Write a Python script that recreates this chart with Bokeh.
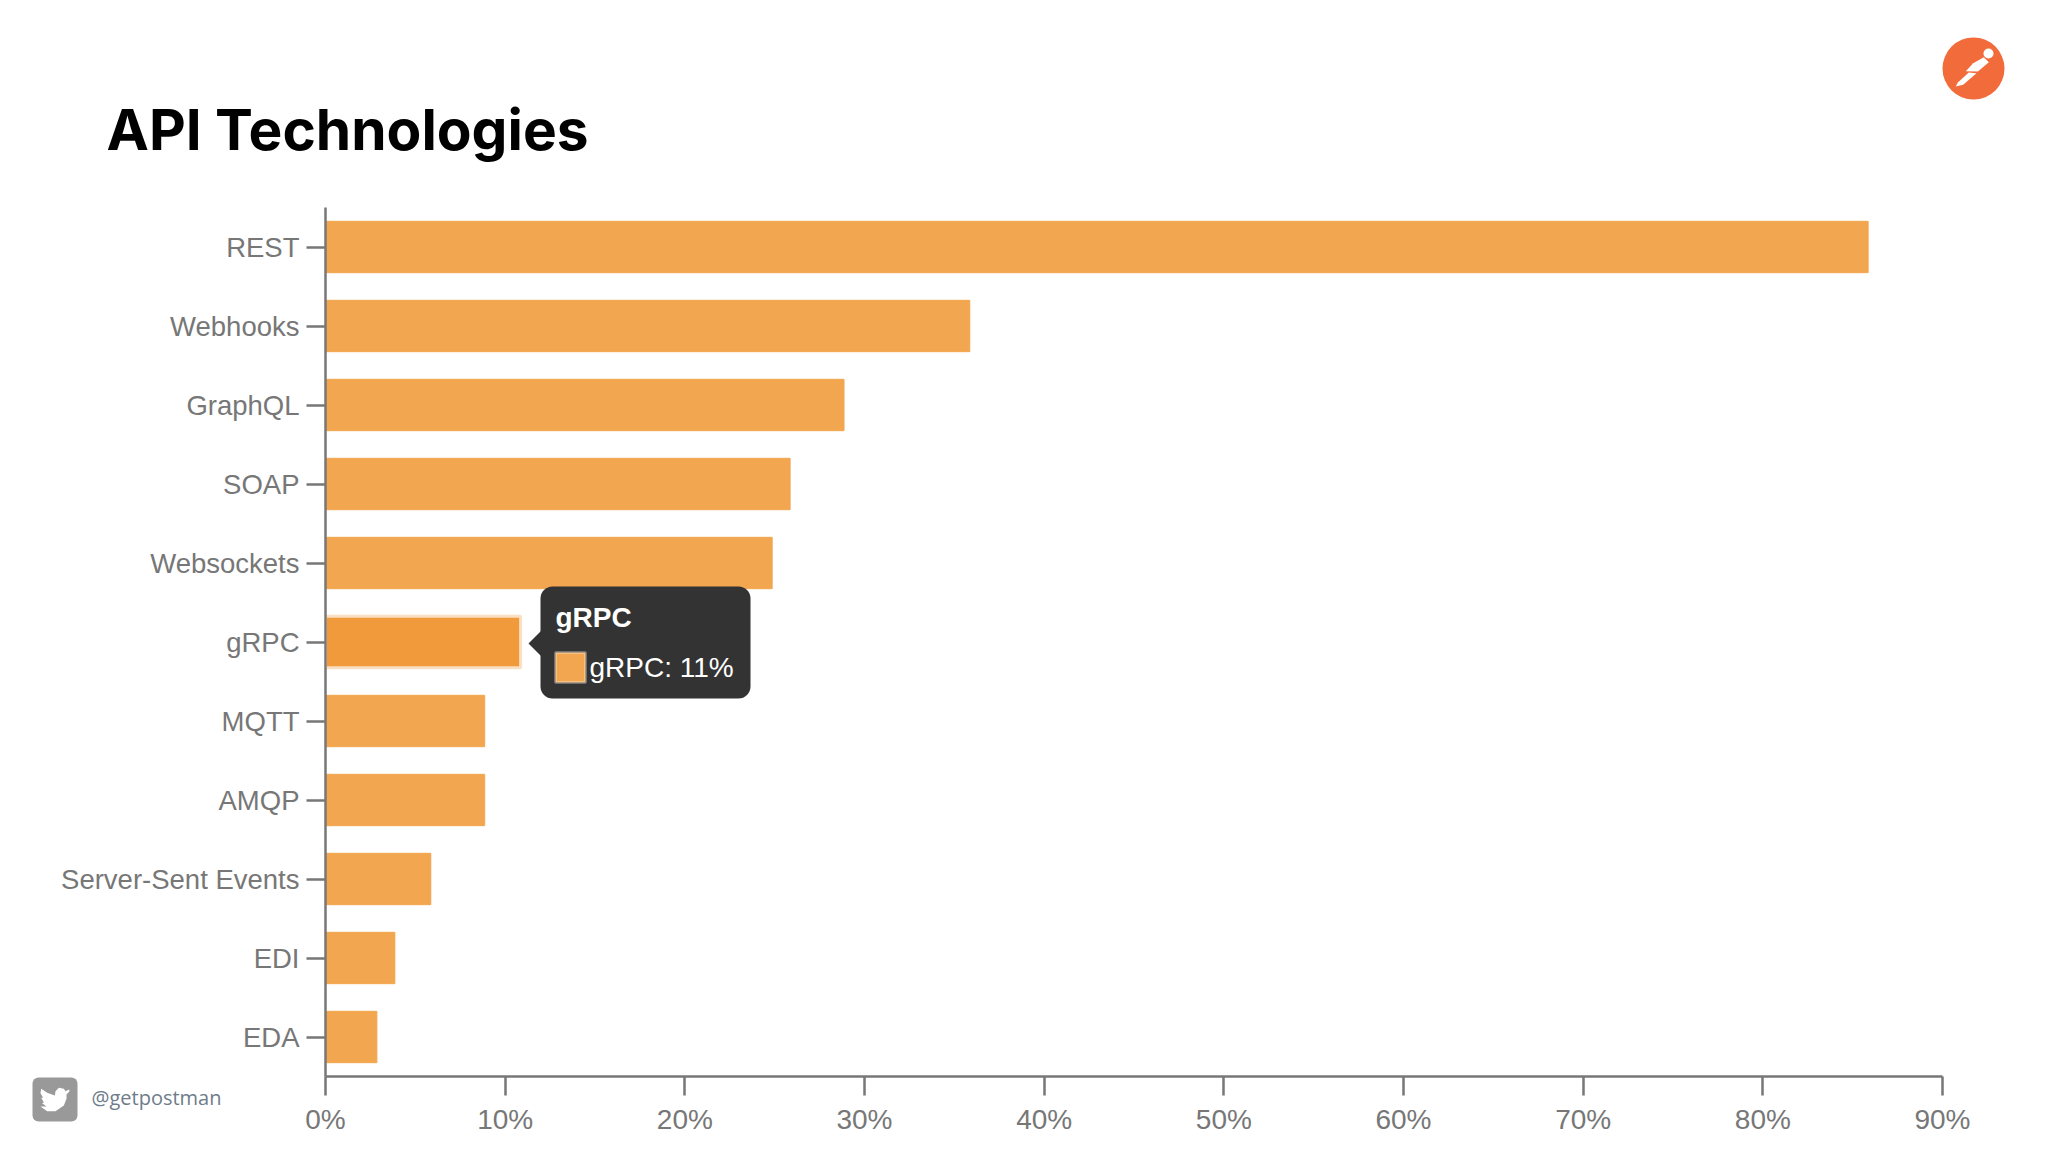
from bokeh.plotting import figure
from bokeh.layouts import column
from bokeh.models import (BoxAnnotation, PolyAnnotation, Label, FixedTicker, PrintfTickFormatter,
                          ColumnDataSource, Range1d, FactorRange, Title)
from bokeh.transform import dodge
from bokeh.embed import file_html
from bokeh.resources import INLINE

categories = ["REST", "Webhooks", "GraphQL", "SOAP", "Websockets", "gRPC", "MQTT", "AMQP",
              "Server-Sent Events", "EDI", "EDA"]
usage_pct = [86, 36, 29, 26, 25, 11, 9, 9, 6, 4, 3]
x_ticks = [0, 10, 20, 30, 40, 50, 60, 70, 80, 90]
BAR = "#F2A64F"
HILITE = "#F09A3B"
bar_colors = [HILITE if c == "gRPC" else BAR for c in categories]
bar_lines = ["#FAE0C2" if c == "gRPC" else BAR for c in categories]
bar_widths = [3 if c == "gRPC" else 1 for c in categories]

FRAME_L, FRAME_T, FRAME_R, FRAME_B = 325, 207, 1942, 1076
W, H = 2040, 1144
p = figure(width=W, height=H, output_backend="svg", toolbar_location=None,
           x_range=Range1d(0, 90), y_range=FactorRange(factors=categories[::-1]),
           min_border_left=FRAME_L, min_border_right=W - FRAME_R, min_border_top=FRAME_T,
           min_border_bottom=H - FRAME_B, frame_align=False,
           background_fill_color="white", border_fill_color="white", outline_line_color=None)

p.title = Title(text="API Technologies", text_font="Inter", text_font_style="bold",
                text_font_size="56.8px", text_color="#000000", offset=-219, standoff=88)

src = ColumnDataSource(dict(cat=categories, val=usage_pct, col=bar_colors, lin=bar_lines, lw=bar_widths))
p.hbar(y="cat", left=0, right=dodge("val", -0.14), height=0.65, source=src,
       fill_color="col", line_color="lin", line_width="lw")

p.grid.visible = False
for ax in (p.xaxis[0], p.yaxis[0]):
    ax.axis_line_color = "#777777"
    ax.axis_line_width = 2.5
    ax.major_tick_line_color = "#777777"
    ax.major_tick_line_width = 2.5
    ax.major_tick_out = 19
    ax.major_tick_in = 0
    ax.minor_tick_line_color = None
    ax.major_label_text_font = "Liberation Sans"
    ax.major_label_text_color = "#777777"
p.xaxis[0].major_label_text_font_size = "28px"
p.yaxis[0].major_label_text_font_size = "27.5px"
p.xaxis[0].ticker = FixedTicker(ticks=x_ticks)
p.xaxis[0].formatter = PrintfTickFormatter(format="%d%%")
p.xaxis[0].major_label_standoff = 8
p.yaxis[0].major_label_standoff = 7

# transparent page-sized overlay: tooltip, logo and handle live here
o = figure(width=W, height=H, output_backend="svg", toolbar_location=None,
           x_range=Range1d(0, W), y_range=Range1d(H, 0),
           min_border=0, background_fill_color=None, border_fill_color=None, outline_line_color=None,
           x_axis_location=None, y_axis_location=None, frame_align=False,
           styles={"position": "absolute", "left": "0px", "top": "0px"})
o.grid.visible = False

def box(l, r, t, b, color, radius=0, line=None, lw=0):
    o.add_layout(BoxAnnotation(left=l, right=r, top=t, bottom=b,
                               fill_color=color, fill_alpha=1, line_color=line, line_width=lw, border_radius=radius))

def poly(pts, color):
    o.add_layout(PolyAnnotation(xs=[a for a, _ in pts], ys=[b for _, b in pts],
                                fill_color=color, fill_alpha=1, line_color=None))

def text(x, y, s, font, size, color, style="normal"):
    o.add_layout(Label(x=x, y=y, text=s, text_font=font,
                       text_font_size=size, text_color=color, text_font_style=style,
                       text_baseline="middle", text_align="left"))

# tooltip
poly([(528, 643), (541, 630), (541, 656)], "#333333")
box(540, 750, 586, 698, "#333333", radius=12)
text(555, 617, "gRPC", "Liberation Sans", "28px", "#FFFFFF", "bold")
box(555, 585, 652, 682, BAR, line="#FFFFFF", lw=3)
text(589, 667, "gRPC: 11%", "Liberation Sans", "28px", "#FFFFFF")

# logo
box(1942, 2004, 37, 99, "#F26B3A", radius=31)
z2 = lambda a, b: (1900 + a / 3, 20 + b / 3)
poly([z2(*q) for q in [(218, 128), (250, 110), (265, 125), (232, 153), (196, 152)]], "#FFFFFF")
poly([z2(*q) for q in [(205, 156), (228, 158), (188, 193), (166, 198), (172, 186)]], "#FFFFFF")
box(1983, 1993, 48, 58, "#FFFFFF", radius=5)

# handle
box(32, 77, 1077, 1121, "#999999", radius=6)
z3 = lambda a, b: (a / 3, 1020 + b / 3)
poly([z3(*q) for q in [(206, 207), (195, 212), (190, 205), (175, 202), (165, 212), (163, 225), (140, 217), (122, 205),
                       (120, 218), (128, 232), (122, 232), (130, 245), (125, 248), (138, 258), (120, 258), (140, 272),
                       (165, 272), (190, 255), (198, 235), (198, 222), (207, 212)]], "#FFFFFF")
text(91, 1097, "@getpostman", "Open Sans", "20px", "#6F7C8A")

page = column(p, o)
open("out.html", "w").write(file_html(page, INLINE))
